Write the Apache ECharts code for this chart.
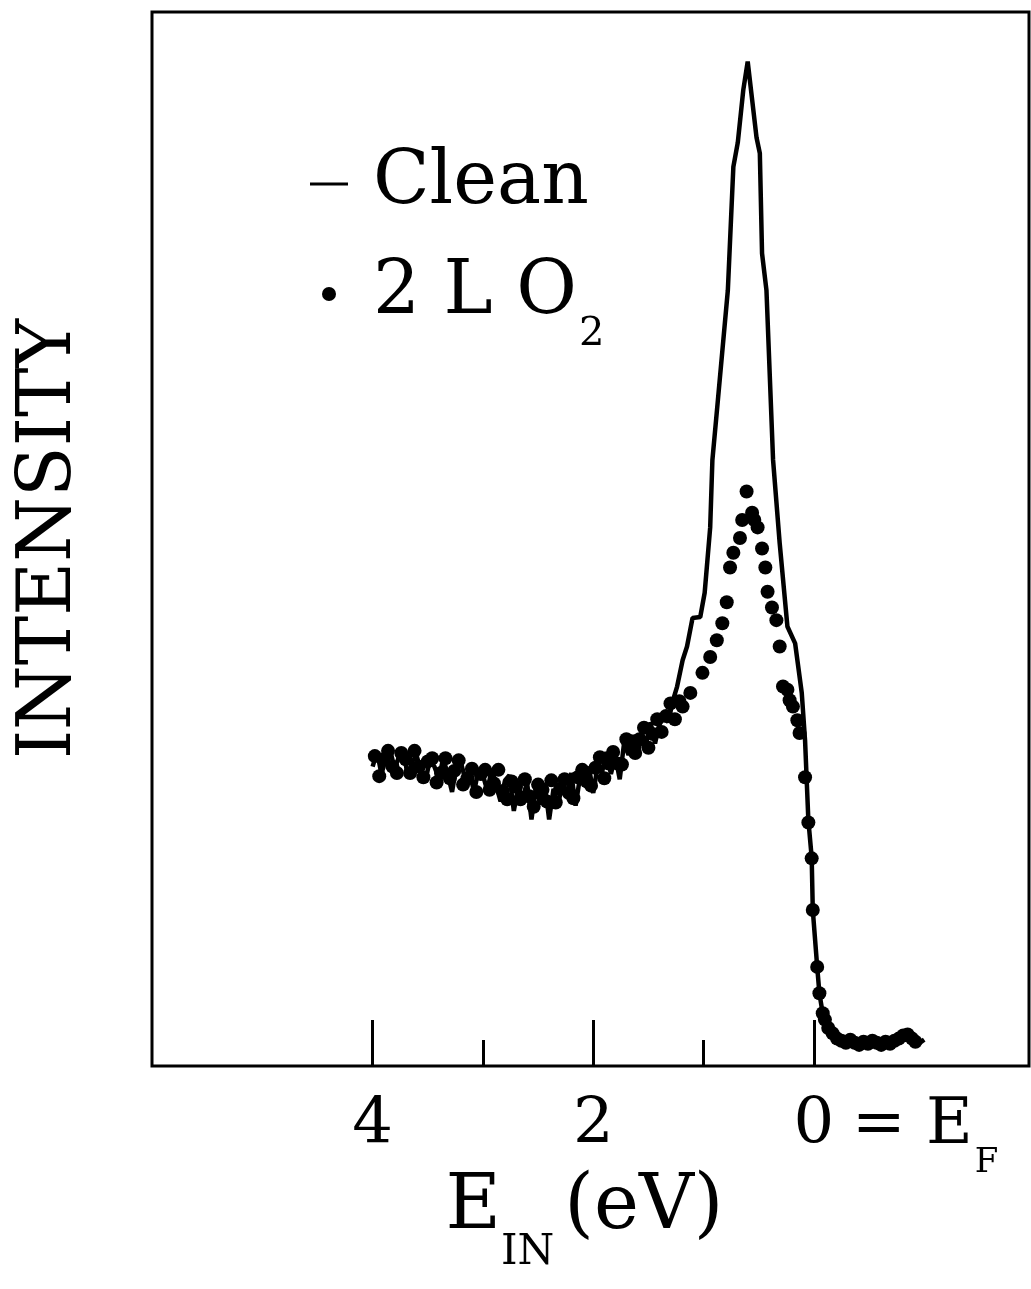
<!DOCTYPE html>
<html>
<head>
<meta charset="utf-8">
<script src="https://cdn.jsdelivr.net/npm/echarts@6/dist/echarts.min.js"></script>
<style>
  html, body { margin: 0; padding: 0; background: #fff; }
  #chart { width: 1031px; height: 1289px; }
</style>
</head>
<body>
<div id="chart"></div>
<script>
// energy below E_F (eV) and intensity (arb. units) for the clean surface
const cleanE = [
  4.00, 3.96, 3.92, 3.88, 3.84, 3.80, 3.76, 3.72, 3.68, 3.64,
  3.60, 3.56, 3.52, 3.48, 3.44, 3.40, 3.36, 3.32, 3.28, 3.24,
  3.20, 3.16, 3.12, 3.08, 3.04, 3.00, 2.96, 2.92, 2.88, 2.84,
  2.80, 2.76, 2.72, 2.68, 2.64, 2.60, 2.56, 2.52, 2.48, 2.44,
  2.40, 2.36, 2.32, 2.28, 2.24, 2.20, 2.16, 2.12, 2.08, 2.04,
  2.00, 1.96, 1.92, 1.88, 1.84, 1.80, 1.76, 1.72, 1.68, 1.64,
  1.60, 1.56, 1.52, 1.48, 1.44, 1.40, 1.36, 1.32, 1.28, 1.24,
  1.19, 1.15, 1.10, 1.03, 0.99, 0.94, 0.92, 0.87, 0.78, 0.73,
  0.69, 0.64, 0.60, 0.56, 0.52, 0.49, 0.47, 0.43, 0.37, 0.31,
  0.24, 0.17, 0.11, 0.08, 0.05, 0.02, 0.01, -0.03, -0.05, -0.08,
  -0.15, -0.22, -0.30, -0.40, -0.50, -0.60, -0.70, -0.80, -0.88, -0.96,
  -1.00
];
const cleanI = [
  28.4, 29.8, 27.7, 29.2, 29.9, 28.2, 29.4, 30.0, 27.3, 28.9,
  29.4, 27.9, 27.1, 29.1, 28.4, 27.3, 29.2, 27.7, 26.0, 28.5,
  28.8, 27.2, 27.8, 26.0, 28.2, 27.6, 26.1, 28.2, 26.6, 25.1,
  27.1, 27.6, 24.2, 26.5, 25.4, 26.9, 23.4, 26.5, 24.8, 26.8,
  23.4, 26.3, 24.6, 27.0, 25.5, 27.8, 24.7, 27.4, 26.8, 28.4,
  25.9, 28.5, 27.9, 29.8, 27.7, 29.4, 27.2, 30.7, 29.5, 31.4,
  29.6, 31.3, 30.6, 32.6, 30.6, 32.5, 33.4, 32.6, 34.6, 36.0,
  38.5, 39.8, 42.5, 42.6, 44.9, 51.1, 57.5, 63.2, 73.6, 85.3,
  87.6, 92.6, 95.3, 91.7, 88.1, 86.6, 77.1, 73.6, 57.5, 49.6,
  41.7, 40.1, 35.4, 30.9, 23.3, 19.8, 14.8, 9.4, 6.9, 5.0,
  3.1, 2.6, 2.5, 2.2, 2.4, 2.3, 2.6, 2.9, 2.6, 2.2,
  2.5
];

// the same spectrum after 2 L of O2
const oxE = [
  3.98, 3.94, 3.90, 3.86, 3.82, 3.78, 3.74, 3.70, 3.66, 3.62,
  3.58, 3.54, 3.50, 3.46, 3.42, 3.38, 3.34, 3.30, 3.26, 3.22,
  3.18, 3.14, 3.10, 3.06, 3.02, 2.98, 2.94, 2.90, 2.86, 2.82,
  2.78, 2.74, 2.70, 2.66, 2.62, 2.58, 2.54, 2.50, 2.46, 2.42,
  2.38, 2.34, 2.30, 2.26, 2.22, 2.18, 2.14, 2.10, 2.06, 2.02,
  1.98, 1.94, 1.90, 1.86, 1.82, 1.78, 1.74, 1.70, 1.66, 1.62,
  1.58, 1.54, 1.50, 1.46, 1.42, 1.38, 1.34, 1.30, 1.26, 1.22,
  1.19, 1.12, 1.01, 0.94, 0.88, 0.83, 0.79, 0.76, 0.73, 0.67,
  0.65, 0.61, 0.56, 0.54, 0.51, 0.47, 0.44, 0.42, 0.38, 0.34,
  0.31, 0.28, 0.24, 0.22, 0.19, 0.15, 0.13, 0.08, 0.05, 0.02,
  0.01, -0.03, -0.05, -0.08, -0.10, -0.13, -0.17, -0.21, -0.25, -0.29,
  -0.33, -0.37, -0.41, -0.45, -0.49, -0.53, -0.57, -0.61, -0.65, -0.69,
  -0.73, -0.77, -0.81, -0.85, -0.89, -0.92
];
const oxI = [
  29.4, 27.5, 29.1, 29.9, 28.4, 27.8, 29.7, 29.1, 27.8, 29.9,
  28.4, 27.4, 28.9, 29.2, 26.9, 27.8, 29.2, 27.3, 28.0, 29.0,
  26.7, 27.3, 28.2, 26.0, 27.7, 28.1, 26.2, 26.8, 28.1, 26.1,
  25.3, 27.0, 26.5, 25.3, 27.2, 25.6, 24.6, 26.7, 26.2, 25.1,
  27.1, 25.0, 26.3, 27.2, 25.9, 25.4, 27.4, 28.1, 27.0, 26.6,
  28.3, 29.3, 27.3, 28.7, 29.8, 28.7, 28.6, 31.0, 30.6, 29.7,
  31.0, 32.1, 30.2, 31.5, 32.9, 31.7, 33.2, 34.4, 32.9, 34.6,
  34.1, 35.4, 37.3, 38.8, 40.4, 42.0, 44.0, 47.3, 48.7, 50.1,
  51.8, 54.5, 52.5, 51.8, 51.1, 49.1, 47.3, 45.0, 43.5, 42.3,
  39.8, 36.0, 35.7, 34.7, 34.1, 32.8, 31.6, 27.4, 23.1, 19.7,
  14.8, 9.4, 6.9, 5.0, 4.4, 3.6, 3.1, 2.6, 2.4, 2.2,
  2.5, 2.2, 2.0, 2.3, 2.1, 2.4, 2.2, 2.0, 2.3, 2.1,
  2.4, 2.6, 2.9, 3.0, 2.6, 2.3
];

const majorTicks = [4, 2, 0];
const minorTicks = [3, 1];

const FONT = 'DejaVu Serif';
// dash icon for the line entry: the two moveTo points only widen the box
const DASH = 'path://M0,0 M40,14 M0,5.5 L40,5.5 L40,8.5 L0,8.5 Z';

let cleanData = cleanE.map(function (e, i) { return [e, cleanI[i]]; });
let oxData = oxE.map(function (e, i) { return [e, oxI[i]]; });

let myChart = echarts.init(document.getElementById('chart'));
let option = {
    animation: false,
    backgroundColor: '#fff',
    grid: {
        left: 152, right: 2, top: 12, bottom: 223,
        show: true, borderColor: '#000', borderWidth: 3
    },
    legend: {
        orient: 'vertical',
        left: 305, top: 142,
        itemWidth: 38, itemHeight: 14,
        itemGap: 36,
        data: [
            {name: 'Clean', icon: DASH},
            {name: '2 L O2', icon: 'circle'}
        ],
        formatter: function (name) {
            return name === 'Clean' ? '{t|Clean}' : '{t|2 L O}{s|2}';
        },
        textStyle: {
            color: '#000',
            rich: {
                t: {fontFamily: FONT, fontSize: 74, color: '#000', padding: [0, 0, 0, 20], lineHeight: 86},
                s: {fontFamily: FONT, fontSize: 40, color: '#000', verticalAlign: 'bottom', padding: [0, 0, -18, 2], lineHeight: 86}
            }
        }
    },
    xAxis: [{
        type: 'value',
        min: -1.95, max: 6,
        inverse: true,
        position: 'bottom',
        axisLine: {show: false},
        splitLine: {show: false},
        axisTick: {
            show: true, inside: true, length: 46,
            customValues: majorTicks,
            lineStyle: {color: '#000', width: 3}
        },
        axisLabel: {
            show: true, margin: 28,
            customValues: majorTicks,
            fontFamily: FONT, fontSize: 64, color: '#000'
        },
        name: '{e|E}{s|IN}{p|(eV)}',
        nameLocation: 'middle',
        nameGap: 104,
        nameTextStyle: {
            padding: [0, 12, 0, 0],
            rich: {
                e: {fontFamily: FONT, fontSize: 76, color: '#000'},
                s: {fontFamily: FONT, fontSize: 42, color: '#000', verticalAlign: 'bottom', padding: [0, 0, -28, 0]},
                p: {fontFamily: FONT, fontSize: 76, color: '#000', padding: [0, 0, 0, 10]}
            }
        }
    }, {
        type: 'value',
        min: -1.95, max: 6,
        inverse: true,
        position: 'bottom',
        axisLine: {show: false},
        splitLine: {show: false},
        axisTick: {
            show: true, inside: true, length: 26,
            customValues: minorTicks,
            lineStyle: {color: '#000', width: 3}
        },
        axisLabel: {show: false}
    }],
    yAxis: {
        type: 'value',
        min: 0, max: 100,
        axisLine: {show: false},
        axisTick: {show: false},
        axisLabel: {show: false},
        splitLine: {show: false},
        name: 'INTENSITY',
        nameLocation: 'middle',
        nameGap: 64,
        nameTextStyle: {fontFamily: FONT, fontSize: 74, color: '#000'}
    },
    graphic: [{
        type: 'text',
        left: 852, top: 1094,
        style: {
            text: '{a|= E}{b|F}',
            rich: {
                a: {fontFamily: FONT, fontSize: 64, fill: '#000'},
                b: {fontFamily: FONT, fontSize: 34, fill: '#000', verticalAlign: 'bottom', padding: [0, 0, -22, 2]}
            }
        }
    }],
    series: [{
        name: 'Clean',
        type: 'line',
        data: cleanData,
        showSymbol: false,
        symbol: 'none',
        lineStyle: {color: '#000', width: 4.5},
        itemStyle: {color: '#000'},
        z: 2
    }, {
        name: '2 L O2',
        type: 'scatter',
        data: oxData,
        symbol: 'circle',
        symbolSize: 14,
        itemStyle: {color: '#000', opacity: 1},
        z: 3
    }]
};
myChart.setOption(option, true);
</script>
</body>
</html>
